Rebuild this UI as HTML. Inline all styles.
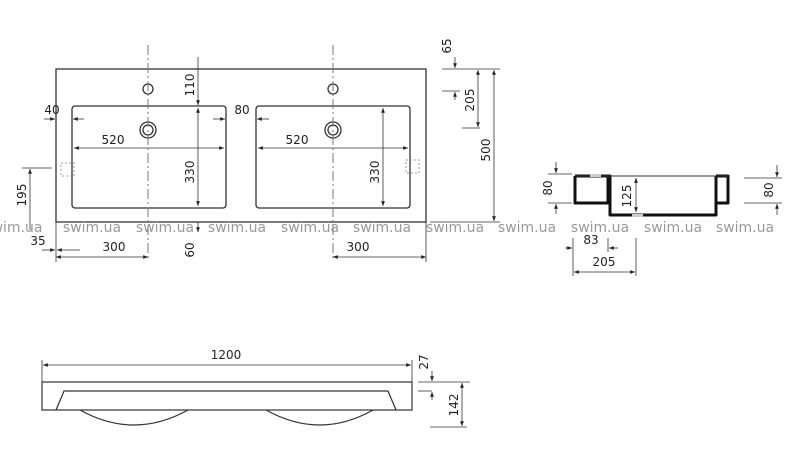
<!DOCTYPE html>
<html><head><meta charset="utf-8"><style>
html,body{margin:0;padding:0;background:#fff;}
svg{display:block;font-family:"DejaVu Sans","Liberation Sans",sans-serif;}
.t{font-size:12px;fill:#222;}
.w{font-size:14px;fill:#999;}
</style></head><body>
<svg width="788" height="456" viewBox="0 0 788 456" xmlns="http://www.w3.org/2000/svg">
<defs><marker id="a" viewBox="0 0 10 10" refX="10" refY="5" markerWidth="6" markerHeight="6" orient="auto-start-reverse"><path d="M0,1 L10,5 L0,9 z" fill="#222"/></marker></defs>
<g stroke="#333" fill="none" stroke-width="1.3">
<rect x="56" y="69" width="370" height="153"/>
<rect x="72" y="106" width="154" height="102" rx="3"/>
<rect x="256" y="106" width="154" height="102" rx="3"/>
<circle cx="148" cy="89" r="5"/><circle cx="148" cy="130" r="8"/><circle cx="148" cy="130" r="5"/>
<circle cx="333" cy="89" r="5"/><circle cx="333" cy="130" r="8"/><circle cx="333" cy="130" r="5"/>
</g>
<g stroke="#777" stroke-width="1" stroke-dasharray="10,3,2,3">
<line x1="148" y1="45" x2="148" y2="258"/><line x1="333" y1="45" x2="333" y2="258"/>
</g>
<g stroke="#999" fill="none" stroke-dasharray="2,2">
<rect x="61" y="163" width="13" height="13"/><rect x="406" y="160" width="13" height="13"/>
</g>
<g stroke="#333" stroke-width="0.8" fill="none">
<line x1="198" y1="57" x2="198" y2="105" marker-end="url(#a)"/>
<line x1="198" y1="108" x2="198" y2="206" marker-start="url(#a)" marker-end="url(#a)"/>
<line x1="383" y1="108" x2="383" y2="206" marker-start="url(#a)" marker-end="url(#a)"/>
<line x1="198" y1="222" x2="198" y2="232" marker-end="url(#a)"/>
<line x1="44" y1="119" x2="55" y2="119" marker-end="url(#a)"/>
<line x1="84" y1="119" x2="73" y2="119" marker-end="url(#a)"/>
<line x1="213" y1="119" x2="225" y2="119" marker-end="url(#a)"/>
<line x1="269" y1="119" x2="257" y2="119" marker-end="url(#a)"/>
<line x1="74" y1="148" x2="224" y2="148" marker-start="url(#a)" marker-end="url(#a)"/>
<line x1="258" y1="148" x2="408" y2="148" marker-start="url(#a)" marker-end="url(#a)"/>
<line x1="22" y1="168" x2="52" y2="168"/>
<line x1="30" y1="230" x2="30" y2="169" marker-end="url(#a)"/>
<line x1="42" y1="250" x2="55" y2="250" marker-end="url(#a)"/>
<line x1="80" y1="250" x2="57" y2="250" marker-end="url(#a)"/>
<line x1="56" y1="222" x2="56" y2="262"/><line x1="426" y1="222" x2="426" y2="262"/>
<line x1="56" y1="257" x2="148" y2="257" marker-start="url(#a)" marker-end="url(#a)"/>
<line x1="333" y1="257" x2="426" y2="257" marker-start="url(#a)" marker-end="url(#a)"/>
<line x1="442" y1="69" x2="500" y2="69"/><line x1="442" y1="91" x2="460" y2="91"/>
<line x1="462" y1="128" x2="480" y2="128"/><line x1="430" y1="222" x2="500" y2="222"/>
<line x1="455" y1="57" x2="455" y2="68" marker-end="url(#a)"/>
<line x1="455" y1="100" x2="455" y2="92" marker-end="url(#a)"/>
<line x1="478" y1="70" x2="478" y2="127" marker-start="url(#a)" marker-end="url(#a)"/>
<line x1="494" y1="70" x2="494" y2="221" marker-start="url(#a)" marker-end="url(#a)"/>
<!-- side -->
<line x1="548" y1="174" x2="572" y2="174"/><line x1="548" y1="203" x2="572" y2="203"/>
<line x1="556" y1="162" x2="556" y2="173" marker-end="url(#a)"/>
<line x1="556" y1="214" x2="556" y2="204" marker-end="url(#a)"/>
<line x1="636" y1="178" x2="636" y2="212" marker-start="url(#a)" marker-end="url(#a)"/>
<line x1="744" y1="178" x2="782" y2="178"/><line x1="744" y1="203" x2="782" y2="203"/>
<line x1="777" y1="165" x2="777" y2="177" marker-end="url(#a)"/>
<line x1="777" y1="215" x2="777" y2="204" marker-end="url(#a)"/>
<line x1="573" y1="238" x2="573" y2="276"/><line x1="608" y1="238" x2="608" y2="252"/><line x1="636" y1="238" x2="636" y2="276"/>
<line x1="565" y1="248" x2="572" y2="248" marker-end="url(#a)"/>
<line x1="618" y1="248" x2="609" y2="248" marker-end="url(#a)"/>
<line x1="574" y1="272" x2="635" y2="272" marker-start="url(#a)" marker-end="url(#a)"/>
<!-- bottom -->
<line x1="42" y1="360" x2="42" y2="382"/><line x1="412" y1="360" x2="412" y2="382"/>
<line x1="43" y1="365" x2="411" y2="365" marker-start="url(#a)" marker-end="url(#a)"/>
<line x1="418" y1="382" x2="470" y2="382"/><line x1="418" y1="391" x2="432" y2="391"/><line x1="430" y1="427" x2="467" y2="427"/>
<line x1="432" y1="371" x2="432" y2="381" marker-end="url(#a)"/>
<line x1="432" y1="400" x2="432" y2="392" marker-end="url(#a)"/>
<line x1="462" y1="383" x2="462" y2="426" marker-start="url(#a)" marker-end="url(#a)"/>
</g>
<g stroke="#111" stroke-width="3" fill="none" stroke-linejoin="round">
<path d="M575,176 L575,203 L608,203 L608,176"/>
<path d="M575,176 L610,176 L610,215 L716,215 L716,176"/>
<path d="M716,176 L728,176 L728,203 L716,203"/>
</g>
<line x1="575" y1="176" x2="728" y2="176" stroke="#333" stroke-width="1"/>
<rect x="590" y="174" width="11" height="3" fill="#ccc"/><rect x="632" y="214" width="11" height="3" fill="#ccc"/>
<g stroke="#333" stroke-width="1.2" fill="none">
<rect x="42" y="382" width="370" height="28"/>
<path d="M56,410 L64,391 L388,391 L396,410"/>
<path d="M80,410 Q134,440 188,410"/><path d="M266,410 Q320,440 373,410"/>
</g>
<g class="t" text-anchor="middle">
<text x="52" y="114">40</text><text x="242" y="114">80</text>
<text x="113" y="144">520</text><text x="297" y="144">520</text>
<text x="38" y="245">35</text><text x="114" y="251">300</text><text x="358" y="251">300</text>
<text transform="translate(194,85) rotate(-90)">110</text>
<text transform="translate(194,172) rotate(-90)">330</text>
<text transform="translate(379,172) rotate(-90)">330</text>
<text transform="translate(194,250) rotate(-90)">60</text>
<text transform="translate(26,195) rotate(-90)">195</text>
<text transform="translate(451,46) rotate(-90)">65</text>
<text transform="translate(474,100) rotate(-90)">205</text>
<text transform="translate(490,150) rotate(-90)">500</text>
<text transform="translate(552,188) rotate(-90)">80</text>
<text transform="translate(631,196) rotate(-90)">125</text>
<text transform="translate(773,190) rotate(-90)">80</text>
<text x="591" y="244">83</text><text x="604" y="266">205</text>
<text x="226" y="359">1200</text>
<text transform="translate(428,362) rotate(-90)">27</text>
<text transform="translate(458,405) rotate(-90)">142</text>
</g>
<g class="w" text-anchor="middle">
<text x="17" y="232">wim.ua</text><text x="92" y="232">swim.ua</text><text x="165" y="232">swim.ua</text>
<text x="237" y="232">swim.ua</text><text x="310" y="232">swim.ua</text><text x="382" y="232">swim.ua</text>
<text x="455" y="232">swim.ua</text><text x="527" y="232">swim.ua</text><text x="600" y="232">swim.ua</text>
<text x="673" y="232">swim.ua</text><text x="745" y="232">swim.ua</text>
</g>
</svg>
</body></html>
